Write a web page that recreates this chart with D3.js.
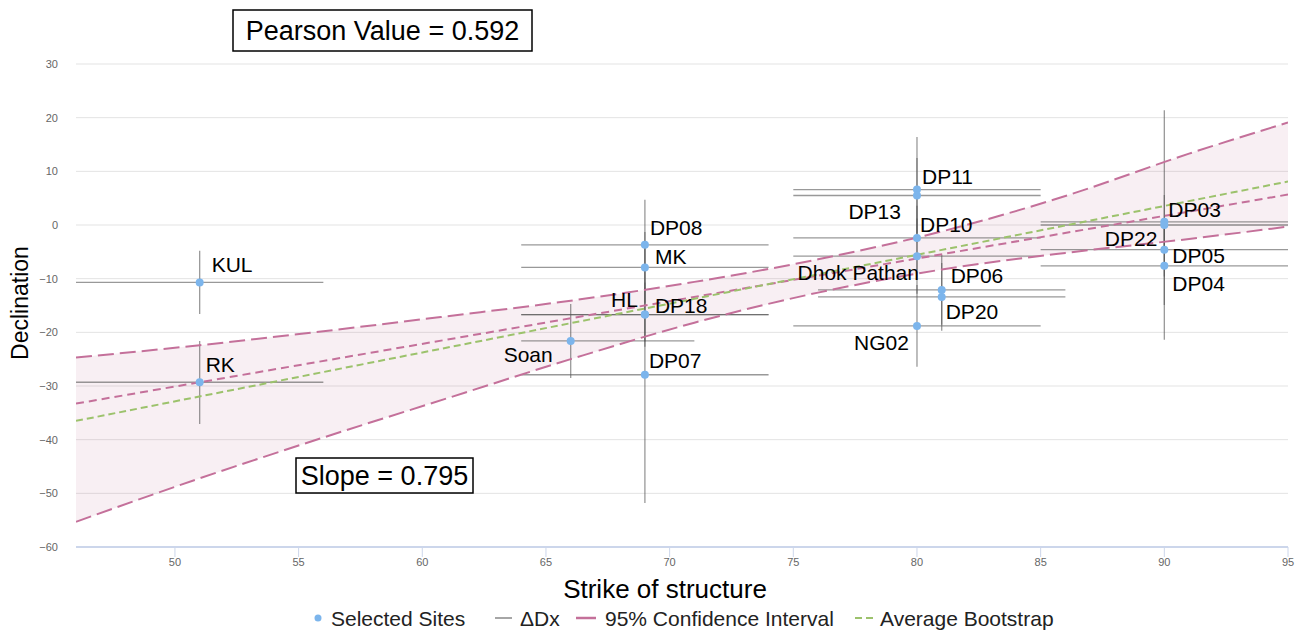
<!DOCTYPE html>
<html>
<head>
<meta charset="utf-8">
<script src="https://cdn.jsdelivr.net/npm/d3@7"></script>
<style>
  html, body { margin: 0; padding: 0; background: #fff; }
  svg { display: block; font-family: "Liberation Sans", Arial, Helvetica, sans-serif; }
</style>
</head>
<body>
<svg id="chart" width="1297" height="630"></svg>
<script>
// ---- Site data: strike of structure vs declination ----
const sites       = ["KUL", "RK", "Soan", "DP08", "MK", "HL", "DP18", "DP07", "DP11", "DP13", "DP10", "Dhok Pathan", "NG02", "DP06", "DP20", "DP03", "DP22", "DP05", "DP04"];
const strike      = [51, 51, 66, 69, 69, 69, 69, 69, 80, 80, 80, 80, 80, 81, 81, 90, 90, 90, 90];
const declination = [-10.7, -29.3, -21.6, -3.7, -7.9, -16.7, -16.7, -27.9, 6.6, 5.5, -2.4, -5.8, -18.8, -12.1, -13.4, 0.6, 0.0, -4.6, -7.6];
const strikeLow   = [46, 46, 64, 64, 64, 64, 64, 64, 75, 75, 75, 75, 75, 76, 76, 85, 85, 85, 85];
const strikeHigh  = [56, 56, 71, 74, 74, 74, 74, 74, 85, 85, 85, 85, 85, 86, 86, 95, 95, 95, 95];
const declLow     = [-16.6, -37.1, -28.5, -12.1, -14.5, -22.7, -21.7, -51.8, -3.2, -1.5, -8.4, -12.8, -26.4, -18.6, -19.7, -4.4, -21.4, -9.6, -14.9];
const declHigh    = [-4.8, -21.6, -14.7, 4.7, -1.3, -10.7, -11.7, -4.0, 16.4, 12.5, 3.6, 1.2, -11.2, -5.6, -7.1, 5.6, 21.4, 0.4, -0.3];

// ---- Fit statistics ----
const pearsonValue = 0.592;
const slopeValue = 0.795;
const interceptValue = -69.85;

// ---- 95% confidence envelope ----
const ciStrike = [46, 51, 56, 61, 66, 71, 76, 81, 86, 91, 95];
const ciUpper  = [-24.7, -22.4, -19.8, -17.0, -14.1, -10.6, -6.4, -1.2, 5.4, 13.3, 19.1];
const ciLower  = [-55.3, -47.2, -39.6, -32.3, -25.0, -18.2, -12.6, -8.3, -5.2, -2.6, -0.3];

// ---- Average bootstrap line ----
const bootStrike = [46, 95];
const bootDecl   = [-36.5, 8.1];

// ---- Axes ----
const xTicks = [50, 55, 60, 65, 70, 75, 80, 85, 90, 95];
const yTicks = [-60, -50, -40, -30, -20, -10, 0, 10, 20, 30];

// ---- Label placement around each point: [dx, dy, anchor] ----
const labelPlacement = {
  "KUL": [12, -18, "start"], "RK": [6, -18, "start"], "Soan": [-18, 14, "end"],
  "DP08": [5, -17.5, "start"], "MK": [10, -10.5, "start"], "HL": [-7, -15.5, "end"],
  "DP18": [10, -9.5, "start"], "DP07": [4, -14.5, "start"], "DP11": [5, -13.5, "start"],
  "DP13": [-16, 16.5, "end"], "DP10": [3, -13.5, "start"], "Dhok Pathan": [2, 16.5, "end"],
  "NG02": [-8, 16.5, "end"], "DP06": [9, -14.5, "start"], "DP20": [4, 15, "start"],
  "DP03": [4, -12.5, "start"], "DP22": [-7, 13.5, "end"], "DP05": [8, 6, "start"],
  "DP04": [8, 17.5, "start"]
};

const W = 1297, H = 630;
const margin = { top: 64, right: 9, bottom: 83, left: 76 };
const svg = d3.select("#chart");

const x = d3.scaleLinear().domain([46, 95]).range([margin.left, W - margin.right]);
const y = d3.scaleLinear().domain([-60, 30]).range([H - margin.bottom, margin.top]);

const pink = "#c4709a", green = "#9cc26c", pointBlue = "#7cb5ec", barGray = "#555";

svg.append("defs").append("clipPath").attr("id", "plotClip")
  .append("rect")
  .attr("x", margin.left).attr("y", margin.top)
  .attr("width", W - margin.left - margin.right)
  .attr("height", H - margin.top - margin.bottom);

// Horizontal grid lines
svg.append("g")
  .selectAll("line")
  .data(yTicks.filter(t => t > -60))
  .join("line")
  .attr("x1", margin.left).attr("x2", W - margin.right)
  .attr("y1", d => y(d)).attr("y2", d => y(d))
  .attr("stroke", "#e3e3e3").attr("stroke-width", 1);

// Y tick labels
svg.append("g")
  .selectAll("text")
  .data(yTicks)
  .join("text")
  .attr("x", 58).attr("y", d => y(d) + 4)
  .attr("text-anchor", "end")
  .attr("font-size", 11).attr("fill", "#666")
  .text(d => d < 0 ? "\u2212" + Math.abs(d) : d);

// X axis line and ticks
svg.append("line")
  .attr("x1", margin.left).attr("x2", W - margin.right)
  .attr("y1", y(-60)).attr("y2", y(-60))
  .attr("stroke", "#ccd6eb").attr("stroke-width", 2);

const xt = svg.append("g").selectAll("g").data(xTicks).join("g");
xt.append("line")
  .attr("x1", d => x(d)).attr("x2", d => x(d))
  .attr("y1", y(-60)).attr("y2", y(-60) + 10)
  .attr("stroke", "#ccd6eb").attr("stroke-width", 1);
xt.append("text")
  .attr("x", d => x(d)).attr("y", y(-60) + 19)
  .attr("text-anchor", "middle")
  .attr("font-size", 11).attr("fill", "#666")
  .text(d => d);

const plot = svg.append("g").attr("clip-path", "url(#plotClip)");

// Confidence band
const ciData = ciStrike.map((s, i) => ({ s, lo: ciLower[i], hi: ciUpper[i] }));
plot.append("path")
  .datum(ciData)
  .attr("d", d3.area().curve(d3.curveMonotoneX)
    .x(d => x(d.s)).y0(d => y(d.lo)).y1(d => y(d.hi)))
  .attr("fill", "rgba(190,110,150,0.11)");

// Error bars
const pts = sites.map((name, i) => ({
  name, sx: strike[i], dy: declination[i],
  xl: strikeLow[i], xh: strikeHigh[i], yl: declLow[i], yh: declHigh[i]
}));
const bars = plot.append("g").attr("stroke", barGray).attr("stroke-opacity", 0.6).attr("stroke-width", 1.3);
bars.selectAll("line.h").data(pts).join("line").attr("class", "h")
  .attr("x1", d => x(d.xl)).attr("x2", d => x(d.xh))
  .attr("y1", d => y(d.dy)).attr("y2", d => y(d.dy));
bars.selectAll("line.v").data(pts).join("line").attr("class", "v")
  .attr("x1", d => x(d.sx)).attr("x2", d => x(d.sx))
  .attr("y1", d => y(d.yl)).attr("y2", d => y(d.yh));

// Confidence interval bounds
const ciLine = key => d3.line().curve(d3.curveMonotoneX).x(d => x(d.s)).y(d => y(d[key]));
["hi", "lo"].forEach(k => {
  plot.append("path").datum(ciData).attr("d", ciLine(k))
    .attr("fill", "none").attr("stroke", pink).attr("stroke-width", 2)
    .attr("stroke-dasharray", "16,6");
});

// Regression line from the reported slope
const regX = [46, 95];
plot.append("path")
  .datum(regX)
  .attr("d", d3.line().x(d => x(d)).y(d => y(slopeValue * d + interceptValue)))
  .attr("fill", "none").attr("stroke", pink).attr("stroke-width", 2)
  .attr("stroke-dasharray", "8,5");

// Average bootstrap line
plot.append("path")
  .datum(bootStrike.map((s, i) => [s, bootDecl[i]]))
  .attr("d", d3.line().x(d => x(d[0])).y(d => y(d[1])))
  .attr("fill", "none").attr("stroke", green).attr("stroke-width", 2)
  .attr("stroke-dasharray", "7,4");

// Points
plot.append("g").selectAll("circle").data(pts).join("circle")
  .attr("cx", d => x(d.sx)).attr("cy", d => y(d.dy)).attr("r", 4)
  .attr("fill", pointBlue);

// Site labels
svg.append("g").selectAll("text").data(pts).join("text")
  .attr("x", d => x(d.sx) + labelPlacement[d.name][0])
  .attr("y", d => y(d.dy) + labelPlacement[d.name][1] + 7.5)
  .attr("text-anchor", d => labelPlacement[d.name][2])
  .attr("font-size", 21).attr("fill", "#000")
  .text(d => d.name);

// Annotation boxes
function boxedText(cx, cy, w, h, txt) {
  svg.append("rect")
    .attr("x", cx - w / 2).attr("y", cy - h / 2).attr("width", w).attr("height", h)
    .attr("fill", "#fff").attr("stroke", "#000").attr("stroke-width", 1.5);
  svg.append("text")
    .attr("x", cx).attr("y", cy + 9.5)
    .attr("text-anchor", "middle").attr("font-size", 27).attr("fill", "#000")
    .text(txt);
}
boxedText(382.5, 30.5, 299, 41, "Pearson Value = " + pearsonValue);
boxedText(384.5, 475.5, 177, 35, "Slope = " + slopeValue);

// Axis titles
svg.append("text")
  .attr("x", 665).attr("y", 598)
  .attr("text-anchor", "middle").attr("font-size", 26).attr("fill", "#000")
  .text("Strike of structure");
svg.append("text")
  .attr("transform", "translate(28,303) rotate(-90)")
  .attr("text-anchor", "middle").attr("font-size", 23).attr("fill", "#000")
  .text("Declination");

// Legend
const ly = 618;
const legend = svg.append("g").attr("font-size", 21).attr("fill", "#222");
legend.append("circle").attr("cx", 318).attr("cy", ly).attr("r", 3.5).attr("fill", pointBlue);
legend.append("text").attr("x", 331).attr("y", ly + 7.5).text("Selected Sites");
legend.append("line").attr("x1", 495).attr("x2", 512).attr("y1", ly).attr("y2", ly)
  .attr("stroke", "#888").attr("stroke-width", 1.5);
legend.append("text").attr("x", 520).attr("y", ly + 7.5).text("\u0394Dx");
legend.append("line").attr("x1", 576).attr("x2", 596).attr("y1", ly).attr("y2", ly)
  .attr("stroke", pink).attr("stroke-width", 2.5);
legend.append("text").attr("x", 605).attr("y", ly + 7.5).text("95% Confidence Interval");
legend.append("line").attr("x1", 855).attr("x2", 873).attr("y1", ly).attr("y2", ly)
  .attr("stroke", green).attr("stroke-width", 2).attr("stroke-dasharray", "7,4");
legend.append("text").attr("x", 880).attr("y", ly + 7.5).text("Average Bootstrap");
</script>
</body>
</html>
